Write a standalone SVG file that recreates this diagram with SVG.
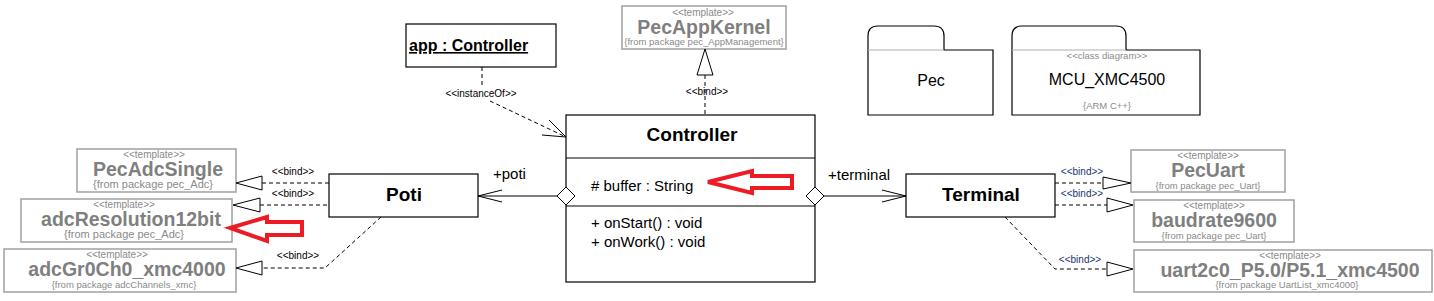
<svg xmlns="http://www.w3.org/2000/svg" width="1434" height="301" viewBox="0 0 1434 301">
<style>
text{font-family:"Liberation Sans",Arial,sans-serif}
.box{fill:#fff;stroke:#000;stroke-width:1.2}
.tbox{fill:#fff;stroke:#a0a0a0;stroke-width:1.5}
.st{font-size:10px;fill:#8a8a8a;text-anchor:middle}
.tn{font-size:19.5px;font-weight:bold;fill:#7f7f7f;text-anchor:middle}
.fp{font-size:9.5px;fill:#8a8a8a;text-anchor:middle}
.cn{font-size:19px;font-weight:bold;fill:#000;text-anchor:middle}
.at{font-size:15px;fill:#000}
.lbl{font-size:10px;fill:#000;text-anchor:middle}
.lblb{font-size:10px;fill:#1a3470;text-anchor:middle}
.dash{fill:none;stroke:#000;stroke-width:1;stroke-dasharray:4,3}
.solid{fill:none;stroke:#000;stroke-width:1}
.tri{fill:#fff;stroke:#000;stroke-width:1}
.red{fill:none;stroke:#ed1c24;stroke-width:4;stroke-linejoin:miter}
.pkg{fill:#fff;stroke:#000;stroke-width:1.2}
</style>

<g id="app-controller">
  <rect class="box" x="406" y="24" width="150" height="43"/>
  <text x="409" y="51" style="font-size:16px;font-weight:bold" text-decoration="underline">app : Controller</text>
</g>

<g id="PecAppKernel">
  <rect class="tbox" x="622" y="6" width="164" height="43"/>
  <text class="st" x="703" y="16">&lt;&lt;template&gt;&gt;</text>
  <text class="tn" x="704" y="34">PecAppKernel</text>
  <text class="fp" x="704" y="45">{from package pec_AppManagement}</text>
</g>

<g id="Controller">
  <rect class="box" x="566" y="115" width="249" height="167"/>
  <line class="solid" x1="566" y1="158" x2="815" y2="158"/>
  <line class="solid" x1="566" y1="206" x2="815" y2="206"/>
  <text class="cn" x="692" y="141">Controller</text>
  <text class="at" x="591" y="191">#  buffer : String</text>
  <text class="at" x="591" y="228">+ onStart() : void</text>
  <text class="at" x="591" y="247">+ onWork() : void</text>
  <polygon class="red" points="708,182 752,171 752,176 792,176 792,188 752,188 752,193"/>
</g>

<g id="Poti">
  <rect class="box" x="329" y="174" width="149" height="43"/>
  <text class="cn" x="404" y="201">Poti</text>
</g>

<g id="Terminal">
  <rect class="box" x="906" y="174" width="149" height="43"/>
  <text class="cn" x="981" y="201">Terminal</text>
</g>

<g id="PecAdcSingle">
  <rect class="tbox" x="77" y="149" width="159" height="43"/>
  <text class="st" x="154" y="158">&lt;&lt;template&gt;&gt;</text>
  <text class="tn" x="158" y="176">PecAdcSingle</text>
  <text class="fp" x="153" y="188" style="font-size:11px">{from package pec_Adc}</text>
</g>

<g id="adcResolution12bit">
  <rect class="tbox" x="21" y="199" width="211" height="43"/>
  <text class="st" x="124" y="208">&lt;&lt;template&gt;&gt;</text>
  <text class="tn" x="131" y="226">adcResolution12bit</text>
  <text class="fp" x="124" y="238" style="font-size:11px">{from package pec_Adc}</text>
  <polygon class="red" points="230,228 267,217 267,222 302,222 302,235 267,235 267,241"/>
</g>

<g id="adcGr0Ch0_xmc4000">
  <rect class="tbox" x="4" y="249" width="232" height="43"/>
  <text class="st" x="117" y="258">&lt;&lt;template&gt;&gt;</text>
  <text class="tn" x="127" y="276">adcGr0Ch0_xmc4000</text>
  <text class="fp" x="124" y="288">{from package adcChannels_xmc}</text>
</g>

<g id="PecUart">
  <rect class="tbox" x="1131" y="150" width="154" height="42"/>
  <text class="st" x="1208" y="159">&lt;&lt;template&gt;&gt;</text>
  <text class="tn" x="1208" y="177">PecUart</text>
  <text class="fp" x="1208" y="189">{from package pec_Uart}</text>
</g>

<g id="baudrate9600">
  <rect class="tbox" x="1134" y="200" width="160" height="42"/>
  <text class="st" x="1214" y="209">&lt;&lt;template&gt;&gt;</text>
  <text class="tn" x="1214" y="227">baudrate9600</text>
  <text class="fp" x="1214" y="239">{from package pec_Uart}</text>
</g>

<g id="uart2c0">
  <rect class="tbox" x="1134" y="250" width="298" height="42"/>
  <text class="st" x="1290" y="259">&lt;&lt;template&gt;&gt;</text>
  <text class="tn" x="1290" y="277">uart2c0_P5.0/P5.1_xmc4500</text>
  <text class="fp" x="1287" y="288">{from package UartList_xmc4000}</text>
</g>

<g id="Pec">
  <path class="pkg" d="M868,115 V36 Q868,26 878,26 H934 Q944,26 944,36 V50 H993 V115 Z"/>
  <line x1="868" y1="50" x2="944" y2="50" stroke="#b0b0b0" stroke-width="1.2"/>
  <text x="931" y="86" style="font-size:16px;text-anchor:middle">Pec</text>
</g>

<g id="MCU_XMC4500">
  <path class="pkg" d="M1012,115 V36 Q1012,26 1022,26 H1116 Q1126,26 1126,36 V50 H1200 V115 Z"/>
  <line x1="1012" y1="50" x2="1126" y2="50" stroke="#b0b0b0" stroke-width="1.2"/>
  <text x="1107" y="59" style="font-size:9.5px;fill:#8a8a8a;text-anchor:middle">&lt;&lt;class diagram&gt;&gt;</text>
  <text x="1107" y="85" style="font-size:16px;text-anchor:middle">MCU_XMC4500</text>
  <text x="1107" y="109" style="font-size:9.5px;fill:#8a8a8a;text-anchor:middle">{ARM C++}</text>
</g>

<g id="connectors">
  <!-- instanceOf -->
  <line class="dash" x1="482" y1="67" x2="482" y2="85"/>
  <text class="lbl" x="481" y="97">&lt;&lt;instanceOf&gt;&gt;</text>
  <line class="dash" x1="490" y1="101" x2="566" y2="137"/>
  <polyline class="solid" points="549,120 566,137 542,135"/>
  <!-- bind PecAppKernel -->
  <line class="dash" x1="705" y1="75" x2="705" y2="115"/>
  <polygon class="tri" points="705,49 697,75 713,75"/>
  <text class="lbl" x="707" y="95">&lt;&lt;bind&gt;&gt;</text>
  <!-- Controller - Poti -->
  <line class="solid" x1="478" y1="196" x2="557" y2="196"/>
  <polyline class="solid" points="502,190 478,196 502,202"/>
  <polygon class="tri" points="557,196 566,187 575,196 566,205"/>
  <text class="at" x="493" y="179">+poti</text>
  <!-- Controller - Terminal -->
  <line class="solid" x1="824" y1="196" x2="906" y2="196"/>
  <polyline class="solid" points="882,190 906,196 882,202"/>
  <polygon class="tri" points="806,196 815,187 824,196 815,205"/>
  <text class="at" x="828" y="180">+terminal</text>
  <!-- Poti binds -->
  <line class="dash" x1="262" y1="183" x2="329" y2="183"/>
  <polygon class="tri" points="236,183 262,176 262,190"/>
  <text class="lbl" x="293" y="175">&lt;&lt;bind&gt;&gt;</text>
  <line class="dash" x1="260" y1="205" x2="329" y2="205"/>
  <polygon class="tri" points="233,205 260,198 260,212"/>
  <text class="lbl" x="293" y="197">&lt;&lt;bind&gt;&gt;</text>
  <polyline class="dash" points="381,217 325,268 262,268"/>
  <polygon class="tri" points="236,268 262,261 262,275"/>
  <text class="lbl" x="298" y="259">&lt;&lt;bind&gt;&gt;</text>
  <!-- Terminal binds -->
  <line class="dash" x1="1055" y1="183" x2="1103" y2="183"/>
  <polygon class="tri" points="1131,183 1103,177 1103,189"/>
  <text class="lblb" x="1082" y="175">&lt;&lt;bind&gt;&gt;</text>
  <line class="dash" x1="1055" y1="205" x2="1107" y2="205"/>
  <polygon class="tri" points="1133,205 1107,198 1107,212"/>
  <text class="lblb" x="1082" y="197">&lt;&lt;bind&gt;&gt;</text>
  <polyline class="dash" points="1005,217 1055,269 1107,269"/>
  <polygon class="tri" points="1133,269 1107,262 1107,276"/>
  <text class="lblb" x="1080" y="263">&lt;&lt;bind&gt;&gt;</text>
</g>
</svg>
